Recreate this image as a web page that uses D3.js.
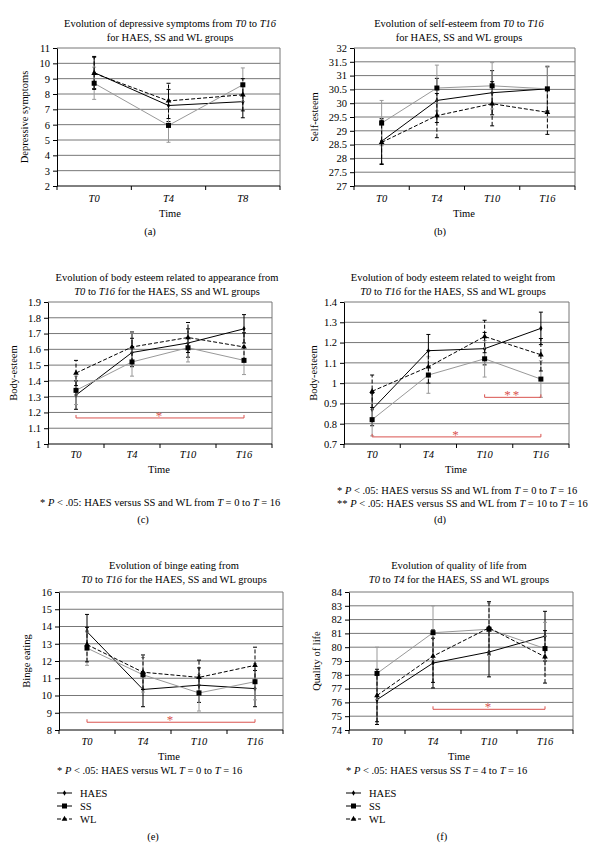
<!DOCTYPE html>
<html>
<head>
<meta charset="utf-8">
<script src="https://cdn.jsdelivr.net/npm/d3@7"></script>
<style>
  body { margin: 0; background: #fff; }
  svg, svg text { font-family: "Liberation Serif", "DejaVu Serif", serif; }
</style>
</head>
<body>
<svg id="chart" width="603" height="852"></svg>
<script>
// (a) depressive symptoms
const depTimes = ["T0", "T4", "T8"];
const depTicks = [2, 3, 4, 5, 6, 7, 8, 9, 10, 11];
const depHAES = [9.4, 7.25, 7.5];
const depHAESErr = [1.05, 1.05, 1.05];
const depSS = [8.7, 5.95, 8.6];
const depSSErr = [1.05, 1.1, 1.1];
const depWL = [9.35, 7.55, 7.95];
const depWLErr = [1.05, 1.15, 1.05];

// (b) self-esteem
const seTimes = ["T0", "T4", "T10", "T16"];
const seTicks = [27, 27.5, 28, 28.5, 29, 29.5, 30, 30.5, 31, 31.5, 32];
const seHAES = [28.62, 30.1, 30.38, 30.52];
const seHAESErr = [0.82, 0.8, 0.8, 0.8];
const seSS = [29.28, 30.55, 30.63, 30.52];
const seSSErr = [0.82, 0.83, 0.84, 0.83];
const seWL = [28.58, 29.55, 29.98, 29.67];
const seWLErr = [0.8, 0.8, 0.8, 0.8];

// (c) body esteem, appearance
const apTimes = ["T0", "T4", "T10", "T16"];
const apTicks = [1, 1.1, 1.2, 1.3, 1.4, 1.5, 1.6, 1.7, 1.8, 1.9];
const apHAES = [1.31, 1.58, 1.64, 1.73];
const apHAESErr = [0.09, 0.09, 0.09, 0.09];
const apSS = [1.34, 1.52, 1.61, 1.53];
const apSSErr = [0.09, 0.09, 0.09, 0.09];
const apWL = [1.45, 1.615, 1.675, 1.615];
const apWLErr = [0.08, 0.095, 0.095, 0.09];
const apSig = [{from: "T0", to: "T16", at: 1.165, mark: "*"}];

// (d) body esteem, weight
const wtTimes = ["T0", "T4", "T10", "T16"];
const wtTicks = [0.7, 0.8, 0.9, 1, 1.1, 1.2, 1.3, 1.4];
const wtHAES = [0.87, 1.16, 1.17, 1.27];
const wtHAESErr = [0.08, 0.08, 0.08, 0.08];
const wtSS = [0.82, 1.04, 1.12, 1.02];
const wtSSErr = [0.08, 0.09, 0.09, 0.09];
const wtWL = [0.96, 1.08, 1.23, 1.14];
const wtWLErr = [0.08, 0.08, 0.08, 0.08];
const wtSig = [{from: "T10", to: "T16", at: 0.93, mark: "**"},
               {from: "T0", to: "T16", at: 0.735, mark: "*"}];

// (e) binge eating
const beTimes = ["T0", "T4", "T10", "T16"];
const beTicks = [8, 9, 10, 11, 12, 13, 14, 15, 16];
const beHAES = [13.7, 10.35, 10.6, 10.4];
const beHAESErr = [1.0, 1.0, 1.0, 1.05];
const beSS = [12.75, 11.2, 10.15, 10.8];
const beSSErr = [1.0, 1.0, 1.05, 1.05];
const beWL = [12.95, 11.35, 11.05, 11.75];
const beWLErr = [1.0, 1.0, 1.0, 1.05];
const beSig = [{from: "T0", to: "T16", at: 8.45, mark: "*"}];

// (f) quality of life
const qlTimes = ["T0", "T4", "T10", "T16"];
const qlTicks = [74, 75, 76, 77, 78, 79, 80, 81, 82, 83, 84];
const qlHAES = [76.2, 78.85, 79.65, 80.8];
const qlHAESErr = [1.8, 1.8, 1.8, 1.8];
const qlSS = [78.1, 81.05, 81.3, 79.9];
const qlSSErr = [1.9, 1.95, 1.9, 1.9];
const qlWL = [76.5, 79.35, 81.4, 79.3];
const qlWLErr = [1.9, 1.9, 1.9, 1.9];
const qlSig = [{from: "T4", to: "T16", at: 75.5, mark: "*"}];

const groups = ["HAES", "SS", "WL"];

const svg = d3.select("#chart");
const FS = 10.5;
const red = "#d9534f";

// writes text with T0, T16, P, T as italic pieces
function richText(sel, str) {
  const parts = str.split(/(\bT\d*\b|\bP\b)/);
  parts.forEach(p => {
    if (p === "") return;
    const t = sel.append("tspan").text(p);
    if (/^(T\d*|P)$/.test(p)) t.attr("font-style", "italic");
  });
}

function marker(g, type, x, y) {
  if (type === "HAES") {
    g.append("path").attr("d", d3.symbol(d3.symbolDiamond, 9)())
      .attr("transform", `translate(${x},${y})`).attr("fill", "#000");
  } else if (type === "SS") {
    g.append("rect").attr("x", x - 2.5).attr("y", y - 2.5)
      .attr("width", 5).attr("height", 5).attr("fill", "#000");
  } else {
    g.append("path").attr("d", d3.symbol(d3.symbolTriangle, 14)())
      .attr("transform", `translate(${x},${y})`).attr("fill", "#000");
  }
}

const style = {
  HAES: {stroke: "#000", dash: null},
  SS: {stroke: "#999", dash: null},
  WL: {stroke: "#000", dash: "4,2"}
};

function panel(c) {
  const g = svg.append("g");
  const x = d3.scaleBand().domain(c.times).range([c.left, c.right]);
  const y = d3.scaleLinear().domain(d3.extent(c.ticks)).range([c.bottom, c.top]);
  const cx = d => x(d) + x.bandwidth() / 2;

  // title
  c.title.forEach((line, i) => {
    richText(g.append("text").attr("x", c.titleX).attr("y", c.titleY + i * 13.5)
      .attr("text-anchor", "middle").attr("font-size", FS), line);
  });

  // grid
  g.selectAll(".grid").data(c.ticks.slice(1)).enter().append("line")
    .attr("x1", c.left).attr("x2", c.right)
    .attr("y1", d => y(d)).attr("y2", d => y(d))
    .attr("stroke", "#777").attr("stroke-width", 1);
  g.append("line").attr("x1", c.right).attr("x2", c.right)
    .attr("y1", c.top).attr("y2", c.bottom).attr("stroke", "#777");

  // axes
  const ya = g.append("g").attr("transform", `translate(${c.left},0)`)
    .call(d3.axisLeft(y).tickValues(c.ticks).tickSize(4).tickSizeOuter(0).tickFormat(d3.format("")));
  ya.attr("font-family", null).attr("font-size", FS);
  ya.select(".domain").attr("stroke", "#000");
  ya.selectAll("text").attr("fill", "#000");

  const xa = g.append("g").attr("transform", `translate(0,${c.bottom})`);
  xa.append("line").attr("x1", c.left).attr("x2", c.right).attr("stroke", "#000");
  const bounds = c.times.map(t => x(t)).concat([c.right]);
  xa.selectAll(".xt").data(bounds).enter().append("line")
    .attr("x1", d => d).attr("x2", d => d).attr("y1", 0).attr("y2", 4).attr("stroke", "#000");
  c.times.forEach(t => {
    richText(xa.append("text").attr("x", cx(t)).attr("y", c.xlabY - c.bottom)
      .attr("text-anchor", "middle").attr("font-size", FS), t);
  });

  g.append("text").attr("x", c.timeX).attr("y", c.timeY).attr("text-anchor", "middle")
    .attr("font-size", FS).text("Time");

  g.append("text").attr("transform", `translate(${c.ylabX},${(c.top + c.bottom) / 2}) rotate(-90)`)
    .attr("text-anchor", "middle").attr("font-size", FS).text(c.ylab);

  // series
  groups.forEach(k => {
    const vals = c.series[k], errs = c.errs[k];
    const s = style[k];
    const pts = c.times.map((t, i) => [cx(t), y(vals[i])]);
    // error bars
    c.times.forEach((t, i) => {
      const px = cx(t);
      const y1 = y(vals[i] - errs[i]), y2 = y(vals[i] + errs[i]);
      g.append("line").attr("x1", px).attr("x2", px).attr("y1", y1).attr("y2", y2)
        .attr("stroke", s.stroke).attr("stroke-dasharray", s.dash);
      [y1, y2].forEach(yy => g.append("line").attr("x1", px - 2).attr("x2", px + 2)
        .attr("y1", yy).attr("y2", yy).attr("stroke", s.stroke));
    });
    g.append("path").attr("d", d3.line()(pts)).attr("fill", "none")
      .attr("stroke", s.stroke).attr("stroke-width", 1).attr("stroke-dasharray", s.dash);
    pts.forEach(p => marker(g, k, p[0], p[1]));
  });

  // significance brackets
  (c.sig || []).forEach(b => {
    const x1 = cx(b.from), x2 = cx(b.to), yy = y(b.at);
    g.append("path").attr("d", `M${x1},${yy - 3}V${yy}H${x2}V${yy - 3}`)
      .attr("fill", "none").attr("stroke", red).attr("stroke-width", 1);
    g.append("text").attr("x", (x1 + x2) / 2).attr("y", yy + 2).attr("text-anchor", "middle")
      .attr("font-size", 13).attr("fill", red).attr("letter-spacing", 2).text(b.mark);
  });

  // footnotes
  (c.notes || []).forEach((n, i) => {
    const t = g.append("text").attr("x", c.noteX).attr("y", c.noteY + i * 12.5)
      .attr("text-anchor", c.noteAnchor || "start").attr("font-size", FS);
    richText(t, n);
  });

  // legend
  if (c.legend) {
    groups.forEach((k, i) => {
      const ly = c.legendY + i * 13;
      g.append("line").attr("x1", c.legendX).attr("x2", c.legendX + 15).attr("y1", ly).attr("y2", ly)
        .attr("stroke", "#000").attr("stroke-dasharray", style[k].dash);
      marker(g, k, c.legendX + 7.5, ly);
      g.append("text").attr("x", c.legendX + 23).attr("y", ly + 4).attr("font-size", FS).text(k);
    });
  }

  g.append("text").attr("x", c.letterX).attr("y", c.letterY).attr("text-anchor", "middle")
    .attr("font-size", FS).text(c.letter);
}

panel({
  times: depTimes, ticks: depTicks,
  series: {HAES: depHAES, SS: depSS, WL: depWL}, errs: {HAES: depHAESErr, SS: depSSErr, WL: depWLErr},
  left: 57, right: 280, top: 48, bottom: 186,
  title: ["Evolution of depressive symptoms from T0 to T16", "for HAES, SS and WL groups"],
  titleX: 170, titleY: 27, xlabY: 202, timeX: 170, timeY: 217, ylabX: 28, ylab: "Depressive symptoms",
  letter: "(a)", letterX: 150, letterY: 235
});

panel({
  times: seTimes, ticks: seTicks,
  series: {HAES: seHAES, SS: seSS, WL: seWL}, errs: {HAES: seHAESErr, SS: seSSErr, WL: seWLErr},
  left: 354, right: 575, top: 48, bottom: 186,
  title: ["Evolution of self-esteem from T0 to T16", "for HAES, SS and WL groups"],
  titleX: 459, titleY: 27, xlabY: 202, timeX: 464, timeY: 217, ylabX: 318, ylab: "Self-esteem",
  letter: "(b)", letterX: 440, letterY: 235
});

panel({
  times: apTimes, ticks: apTicks,
  series: {HAES: apHAES, SS: apSS, WL: apWL}, errs: {HAES: apHAESErr, SS: apSSErr, WL: apWLErr},
  sig: apSig,
  left: 48, right: 272, top: 302, bottom: 444,
  title: ["Evolution of body esteem related to appearance from", "T0 to T16 for the HAES, SS and WL groups"],
  titleX: 167, titleY: 281, xlabY: 458, timeX: 159, timeY: 473, ylabX: 17, ylab: "Body-esteem",
  notes: ["* P < .05: HAES versus SS and WL from T = 0 to T = 16"], noteX: 40, noteY: 506,
  letter: "(c)", letterX: 143, letterY: 523
});

panel({
  times: wtTimes, ticks: wtTicks,
  series: {HAES: wtHAES, SS: wtSS, WL: wtWL}, errs: {HAES: wtHAESErr, SS: wtSSErr, WL: wtWLErr},
  sig: wtSig,
  left: 344, right: 569, top: 302, bottom: 444,
  title: ["Evolution of body esteem related to weight from", "T0 to T16 for the HAES, SS and WL groups"],
  titleX: 453, titleY: 281, xlabY: 458, timeX: 456, timeY: 473, ylabX: 317, ylab: "Body-esteem",
  notes: ["* P < .05: HAES versus SS and WL from T = 0 to T = 16",
          "** P < .05: HAES versus SS and WL from T = 10 to T = 16"], noteX: 337, noteY: 494,
  letter: "(d)", letterX: 440, letterY: 523
});

panel({
  times: beTimes, ticks: beTicks,
  series: {HAES: beHAES, SS: beSS, WL: beWL}, errs: {HAES: beHAESErr, SS: beSSErr, WL: beWLErr},
  sig: beSig,
  left: 59, right: 283, top: 592, bottom: 730,
  title: ["Evolution of binge eating from", "T0 to T16 for the HAES, SS and WL groups"],
  titleX: 174, titleY: 569, xlabY: 745, timeX: 169, timeY: 760, ylabX: 30, ylab: "Binge eating",
  notes: ["* P < .05: HAES versus WL T = 0 to T = 16"], noteX: 57, noteY: 774,
  legend: true, legendX: 57, legendY: 793,
  letter: "(e)", letterX: 153, letterY: 840
});

panel({
  times: qlTimes, ticks: qlTicks,
  series: {HAES: qlHAES, SS: qlSS, WL: qlWL}, errs: {HAES: qlHAESErr, SS: qlSSErr, WL: qlWLErr},
  sig: qlSig,
  left: 349, right: 573, top: 592, bottom: 730,
  title: ["Evolution of quality of life from", "T0 to T4 for the HAES, SS and WL groups"],
  titleX: 459, titleY: 569, xlabY: 745, timeX: 459, timeY: 760, ylabX: 320, ylab: "Quality of life",
  notes: ["* P < .05: HAES versus SS T = 4 to T = 16"], noteX: 346, noteY: 774,
  legend: true, legendX: 346, legendY: 793,
  letter: "(f)", letterX: 442, letterY: 840
});
</script>
</body>
</html>
